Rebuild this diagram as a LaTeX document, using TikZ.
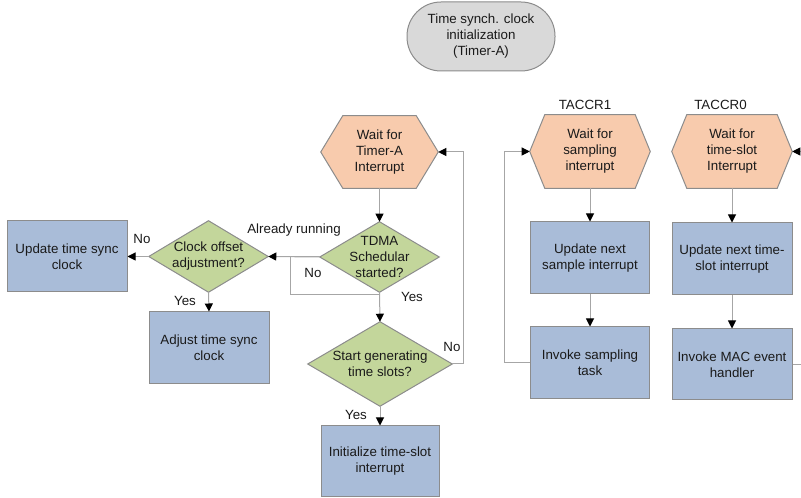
\documentclass[tikz,border=0pt]{standalone}
\usepackage{fontspec}
\setmainfont{Liberation Sans}
\usetikzlibrary{arrows.meta,backgrounds}

\definecolor{boxblue}{HTML}{A9BCD8}
\definecolor{decgreen}{HTML}{C3D69B}
\definecolor{waitpeach}{HTML}{F8CBAD}
\definecolor{termgray}{HTML}{D9D9D9}
\definecolor{edgegray}{HTML}{8C8C8C}
\definecolor{linegray}{HTML}{A6A6A6}
\definecolor{txt}{HTML}{1A1A1A}

% outline of a flat-topped hexagon around node #1, tips #2 px deep
\newcommand{\hexoutline}[2]{%
  \filldraw[shapeline, fill=waitpeach]
    (#1.west) -- ([xshift=#2*0.75pt]#1.north west) -- ([xshift=-#2*0.75pt]#1.north east)
    -- (#1.east) -- ([xshift=-#2*0.75pt]#1.south east) -- ([xshift=#2*0.75pt]#1.south west) -- cycle;}
% outline of a diamond around node #1
\newcommand{\diaoutline}[1]{%
  \filldraw[shapeline, fill=decgreen]
    (#1.west) -- (#1.north) -- (#1.east) -- (#1.south) -- cycle;}

\begin{document}
\begin{tikzpicture}[x=0.75pt, y=-0.75pt,
  every node/.style={font=\fontsize{10}{12}\selectfont, text=txt, align=center, inner sep=0pt},
  shapeline/.style={draw=edgegray, line width=0.75pt},
  procbox/.style={shapeline, fill=boxblue, minimum width=#1*0.75pt, minimum height=72*0.75pt},
  procbox/.default=120,
  area/.style n args={2}{minimum width=#1*0.75pt, minimum height=#2*0.75pt},
  ln/.style={draw=linegray, line width=0.75pt},
  arr/.style={ln, -{Triangle[width=6pt, length=6pt, color=black]}},
  lbl/.style={}]
  \useasboundingbox (0,0) rectangle (801,498);

  % start terminator
  \node[shapeline, fill=termgray, rounded corners=25.5pt, area={148}{69}] (term) at (481,36.5)
    {Time synch. clock\\initialization\\(Timer-A)};

  % main column
  \node[area={117}{72}] (hexA) at (379.5,152) {Wait for\\Timer-A\\Interrupt};
  \node[area={119}{70}] (tdma) at (379.5,257) {TDMA\\Schedular\\started?};
  \node[area={144}{84}] (start) at (380,364) {Start generating\\time slots?};
  \node[procbox=118, minimum height=71*0.75pt] (init) at (380,461.5) {Initialize time-slot\\interrupt};

  % clock synchronisation branch
  \node[area={119}{71}] (clk) at (208.5,256.5) {Clock offset\\adjustment?};
  \node[procbox, minimum height=71*0.75pt] (upd) at (67,256.5) {Update time sync\\clock};
  \node[procbox] (adj) at (209,348) {Adjust time sync\\clock};

  % TACCR1 column
  \node (t1) at (585,105) {TACCR1};
  \node[area={120}{73}] (hexS) at (590,151.5) {Wait for\\sampling\\interrupt};
  \node[procbox=119] (nsamp) at (590,258) {Update next\\sample interrupt};
  \node[procbox=119] (invs) at (590,363) {Invoke sampling\\task};

  % TACCR0 column
  \node (t0) at (720.5,105) {TACCR0};
  \node[area={120}{73}] (hexT) at (732,151.5) {Wait for\\time-slot\\Interrupt};
  \node[procbox] (nslot) at (732,259) {Update next time-\\slot interrupt};
  \node[procbox, minimum height=71*0.75pt] (mac) at (732,364.5) {Invoke MAC event\\handler};

  \begin{pgfonlayer}{background}
    \hexoutline{hexA}{22}
    \hexoutline{hexS}{15}
    \hexoutline{hexT}{15}
    \diaoutline{tdma}
    \diaoutline{start}
    \diaoutline{clk}
  \end{pgfonlayer}

  % connectors
  \coordinate (join) at (379.5,295);
  \draw[arr] (hexA.south) -- (tdma.north);
  \draw[arr] (tdma.west) -- (clk.east);
  \draw[ln] (tdma.west) -- ++(-29,0) |- (join);
  \draw[arr] (tdma.south) -- (start.north);
  \draw[arr] (start.south) -- (init.north);
  \draw[arr] (start.east) -- ++(11,0) |- (hexA.east);
  \draw[arr] (clk.west) -- (upd.east);
  \draw[arr] (clk.south) -- (adj.north);

  \draw[arr] (hexS.south) -- (nsamp.north);
  \draw[arr] (nsamp.south) -- (invs.north);
  \draw[arr] (invs.west) -- ++(-26,0) |- (hexS.west);

  \draw[arr] (hexT.south) -- (nslot.north);
  \draw[arr] (nslot.south) -- (mac.north);
  \draw[arr] (mac.east) -- ++(20,0) |- (hexT.east);

  % branch labels
  \node[lbl] (lrun) at (294,230) {Already running};
  \node[lbl] (lno1) at (142,239) {No};
  \node[lbl] (lno2) at (313,273) {No};
  \node[lbl] (lyes1) at (185,301) {Yes};
  \node[lbl] (lyes2) at (412,297) {Yes};
  \node[lbl] (lno3) at (452,347) {No};
  \node[lbl] (lyes3) at (356,415) {Yes};
\end{tikzpicture}
\end{document}
